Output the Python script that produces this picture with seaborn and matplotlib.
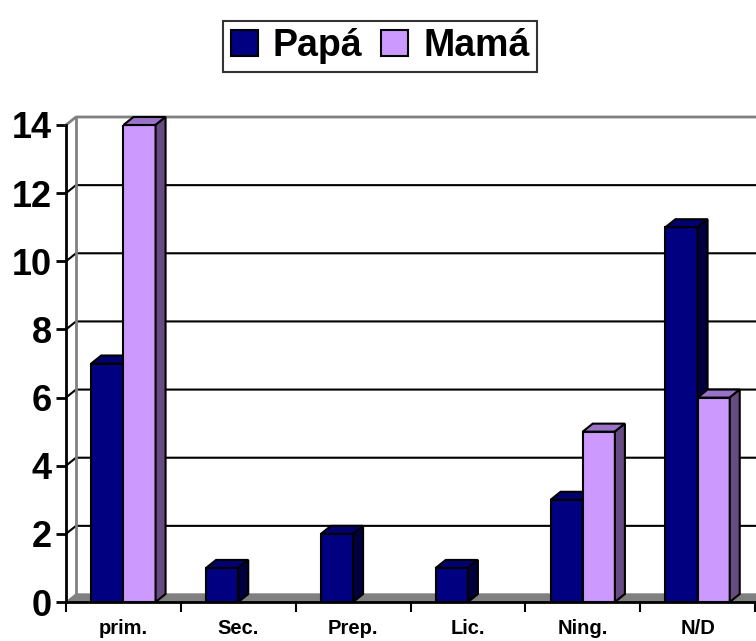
import matplotlib
matplotlib.use("Agg")
import matplotlib.pyplot as plt
from matplotlib.patches import Patch, Polygon
import seaborn as sns
import pandas as pd

categorias = ["prim.", "Sec.", "Prep.", "Lic.", "Ning.", "N/D"]
papa = [7, 1, 2, 1, 3, 11]
mama = [14, 0, 0, 0, 5, 6]
series = ["Papá", "Mamá"]

df = pd.DataFrame({
    "nivel": categorias * 2,
    "n": papa + mama,
    "quien": [series[0]] * len(papa) + [series[1]] * len(mama),
})

sns.set_style("white")
plt.rcParams["font.family"] = ["Liberation Sans", "DejaVu Sans"]
plt.rcParams["font.weight"] = "bold"
plt.rcParams["text.color"] = "black"
plt.rcParams["xtick.color"] = "black"
plt.rcParams["ytick.color"] = "black"

frente = ["#000080", "#CC99FF"]
arriba = ["#000070", "#9A73C8"]
lado = ["#000040", "#664C80"]

W, H = 7.56, 6.41
fig = plt.figure(figsize=(W, H), dpi=100)
ax_l, ax_b, ax_w, ax_h = 66 / 756, 39 / 641, 689 / 756, 477 / 641
ax = fig.add_axes([ax_l, ax_b, ax_w, ax_h])

sns.barplot(data=df, x="nivel", y="n", hue="quien", palette=frente,
            width=0.56, saturation=1, edgecolor="black", linewidth=1.5,
            legend=False, ax=ax)
barras = list(ax.patches)

ax.set_xlim(-0.5, 5.5)
ax.set_ylim(0, 14)

# depth offset (10 px right, 8 px up) in data units
dx = 10 / (ax_w * 756) * 6
dy = 8 / (ax_h * 641) * 14
x0, x1 = -0.5, 5.5

# back wall gridlines
for v in range(2, 14, 2):
    ax.plot([x0, x0 + dx, x1 + dx], [v, v + dy, v + dy], color="black",
            lw=1.5, zorder=1, clip_on=False)
ax.plot([x0, x0 + dx, x1 + dx], [14, 14 + dy, 14 + dy], color="#808080",
        lw=2, zorder=1, clip_on=False)
ax.plot([x0 + dx, x0 + dx], [dy, 14 + dy], color="#808080", lw=2,
        zorder=1, clip_on=False)
# floor
ax.add_patch(Polygon([(x0, 0), (x1, 0), (x1 + dx, dy), (x0 + dx, dy)],
                     closed=True, facecolor="#808080", edgecolor="#808080",
                     lw=1, zorder=1.5, clip_on=False))

# 3D faces for each bar
n = len(categorias)
for i, p in enumerate(barras):
    s = i // n
    h = p.get_height()
    z = 3 + s
    p.set_zorder(z)
    if h <= 0:
        p.set_visible(False)
        continue
    a, b = p.get_x(), p.get_x() + p.get_width()
    ax.add_patch(Polygon([(a, h), (b, h), (b + dx, h + dy), (a + dx, h + dy)],
                         closed=True, facecolor=arriba[s], edgecolor="black",
                         lw=1.5, zorder=z + 0.1, clip_on=False))
    ax.add_patch(Polygon([(b, 0), (b, h), (b + dx, h + dy), (b + dx, dy)],
                         closed=True, facecolor=lado[s], edgecolor="black",
                         lw=1.5, zorder=z + 0.2, clip_on=False))

for sp in ["top", "right"]:
    ax.spines[sp].set_visible(False)
for sp in ["left", "bottom"]:
    ax.spines[sp].set_color("black")
    ax.spines[sp].set_linewidth(2)
    ax.spines[sp].set_zorder(2.5)

ax.set_yticks(range(0, 15, 2))
ax.tick_params(axis="y", direction="out", length=7, width=2, color="black",
               labelcolor="black", labelsize=26, pad=3, left=True)
ax.set_xticks([i - 0.5 for i in range(n + 1)], minor=True)
ax.tick_params(axis="x", which="minor", direction="out", length=7, width=1.5,
               color="black", bottom=True)
ax.tick_params(axis="x", which="major", length=0, labelsize=14.5, pad=12,
               labelcolor="black")
for t in ax.get_yticklabels() + ax.get_xticklabels():
    t.set_fontweight("bold")
ax.set_xlabel("")
ax.set_ylabel("")
ax.grid(False)

handles = [Patch(facecolor=frente[k], edgecolor="black", lw=1.5, label=series[k])
           for k in range(2)]
leg = fig.legend(handles=handles, loc="center", bbox_to_anchor=(0.503, 0.928),
                 ncol=2, frameon=True, fancybox=False, edgecolor="black",
                 prop={"size": 27, "weight": "bold"}, handlelength=0.72,
                 handleheight=0.72, handletextpad=0.4, columnspacing=0.5,
                 borderpad=0.2, borderaxespad=0, labelcolor="black")
leg.get_frame().set_linewidth(1.5)

fig.savefig("out.png", dpi=100)
